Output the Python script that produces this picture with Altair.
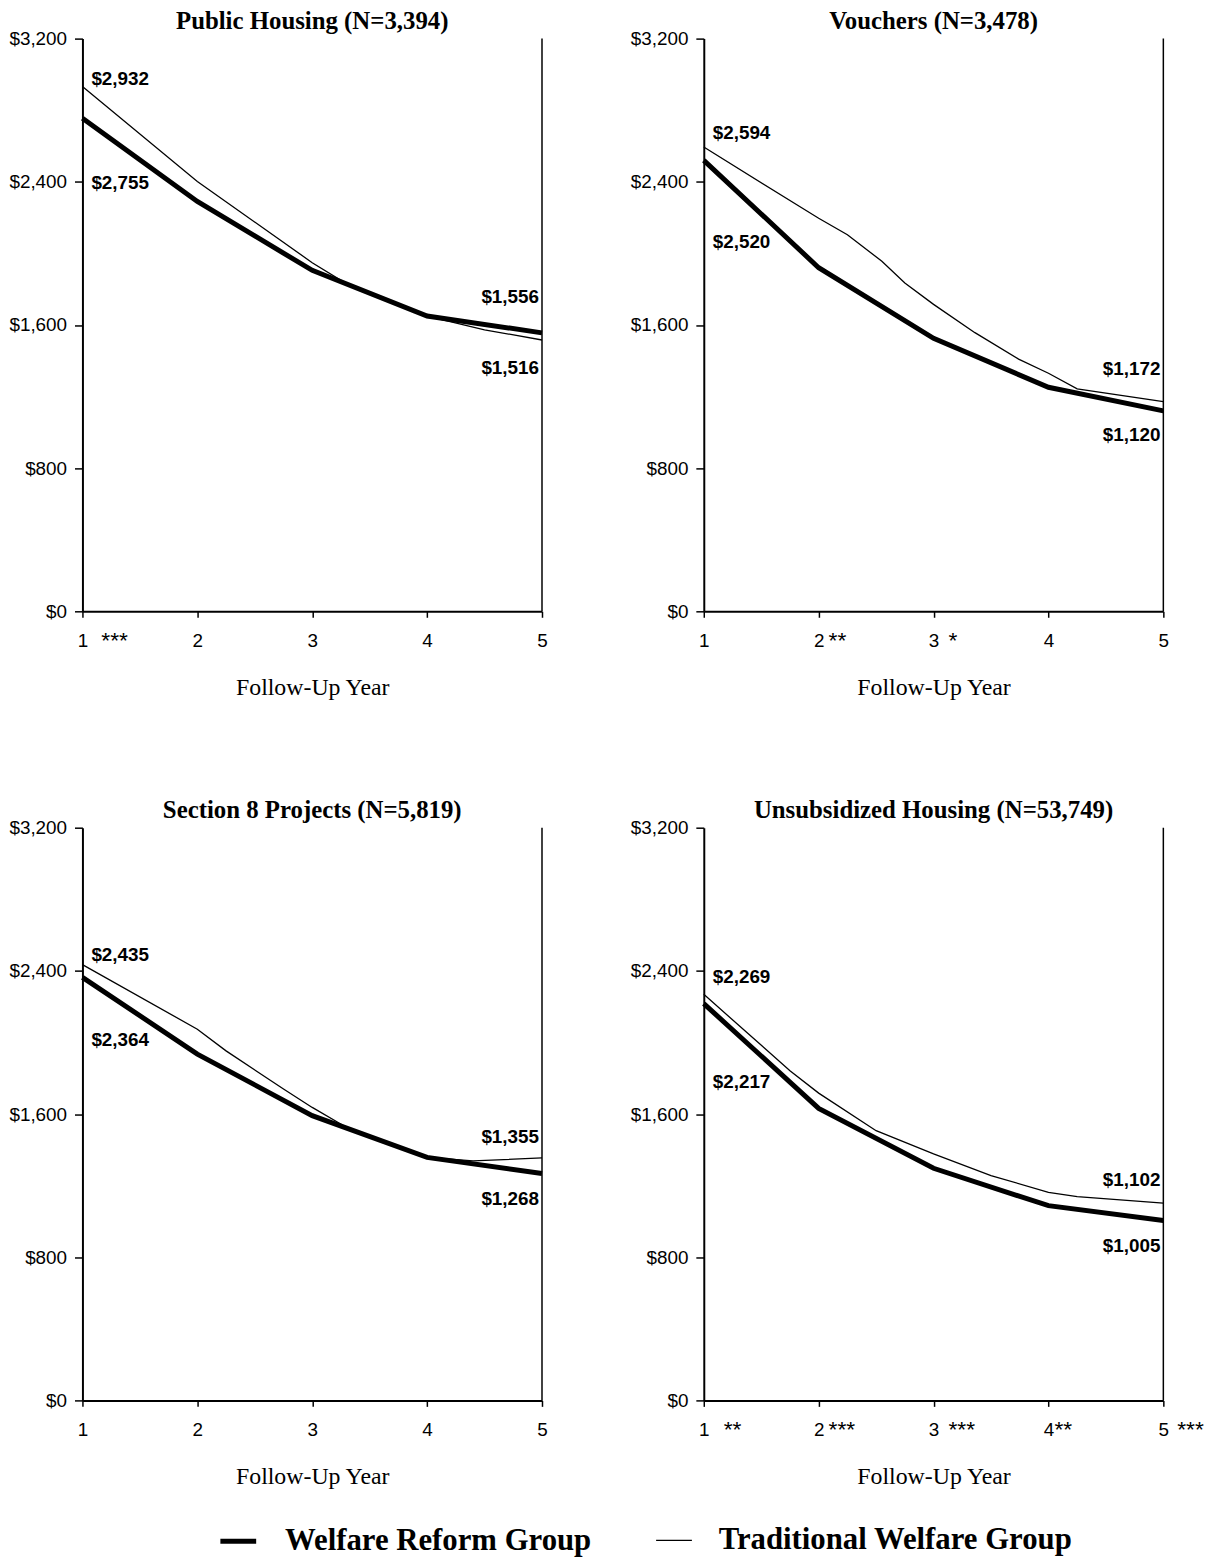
import altair as alt
import pandas as pd

# ---------------- data ----------------
panels = ["Public Housing (N=3,394)", "Vouchers (N=3,478)",
          "Section 8 Projects (N=5,819)", "Unsubsidized Housing (N=53,749)"]
groups = ["Welfare Reform Group", "Traditional Welfare Group"]

reform_x = [[1, 2, 3, 4, 5], [1, 2, 3, 4, 5], [1, 2, 3, 4, 5], [1, 2, 3, 4, 5]]
reform_y = [[2755, 2290, 1905, 1650, 1556],
            [2520, 1920, 1525, 1252, 1120],
            [2364, 1935, 1591, 1358, 1268],
            [2217, 1632, 1297, 1088, 1005]]

trad_x = [[1, 2, 3, 3.3, 4, 4.5, 5],
          [1, 2, 2.25, 2.55, 2.75, 3, 3.36, 3.74, 4, 4.25, 5],
          [1, 2, 2.25, 2.75, 3, 3.3, 4, 4.4, 5],
          [1, 1.75, 2, 2.5, 3, 3.5, 4, 4.25, 5]]
trad_y = [[2932, 2402, 1948, 1830, 1650, 1573, 1516],
          [2594, 2196, 2104, 1956, 1835, 1715, 1557, 1409, 1330, 1243, 1172],
          [2435, 2074, 1953, 1740, 1637, 1525, 1358, 1338, 1355],
          [2269, 1842, 1717, 1507, 1377, 1256, 1163, 1139, 1102]]

# endpoint value labels
start_trad = [2932, 2594, 2435, 2269]
start_reform = [2755, 2520, 2364, 2217]
end_trad = [1516, 1172, 1355, 1102]
end_reform = [1556, 1120, 1268, 1005]

# significance stars next to year tick labels
stars_year = [[1], [2, 3], [], [1, 2, 3, 4, 5]]
stars_text = [["***"], ["**", "*"], [], ["**", "***", "***", "**", "***"]]

x_ticks = [1, 2, 3, 4, 5]
y_ticks = [0, 800, 1600, 2400, 3200]

# ---------------- styles ----------------
W, H = 463, 577
start_trad_dy = [-8, -14, -10, -17]
start_reform_dy = [65, 82, 63, 79]
end_trad_dy = [28, -33, -21, -23]
end_reform_dy = [-36, 24, 26, 26]
stars_gap_px = [[19], [10, 15], [], [20, 10, 15, 6, 14]]

SANS = "Liberation Sans"
SERIF = "Liberation Serif"


def xenc(field):
    return alt.X(field, type="quantitative",
                 scale=alt.Scale(domain=[1, 5], nice=False, zero=False),
                 axis=alt.Axis(values=x_ticks, format="d", title="Follow-Up Year",
                               labelFlush=False))


def yenc(field="value"):
    return alt.Y(field, type="quantitative",
                 scale=alt.Scale(domain=[0, 3200], nice=False),
                 axis=alt.Axis(values=y_ticks, format="$,.0f", title=None))


def panel(i):
    rows = []
    for x, y in zip(reform_x[i], reform_y[i]):
        rows.append({"year": x, "value": y, "group": groups[0]})
    for x, y in zip(trad_x[i], trad_y[i]):
        rows.append({"year": x, "value": y, "group": groups[1]})
    df = pd.DataFrame(rows)

    lines = alt.Chart(df).mark_line(color="black").encode(
        x=xenc("year"), y=yenc(),
        strokeWidth=alt.StrokeWidth(
            "group:N",
            scale=alt.Scale(domain=groups, range=[5, 1.3]),
            legend=alt.Legend(
                title=None, orient="none", legendX=136, legendY=1493,
                direction="horizontal", symbolType="stroke", symbolSize=1300,
                symbolStrokeColor="black",
                labelFont=SERIF, labelFontSize=31, labelFontWeight="bold",
                labelColor="black", labelLimit=800, columnPadding=62,
                labelOffset=26)),
        detail="group:N",
        order="year:Q",
    )

    border = alt.Chart(pd.DataFrame({"a": [0]})).mark_rule(
        color="black", strokeWidth=1.5).encode(
        x=alt.datum(5), y=alt.datum(0), y2=alt.datum(3200))

    title = alt.Chart(pd.DataFrame({"t": [panels[i]]})).mark_text(
        baseline="middle", align="center", dy=-18, font=SERIF, fontSize=25,
        fontWeight="bold", color="black").encode(
        x=alt.datum(3), y=alt.datum(3200), text="t:N")

    layers = [lines, border, title]

    def label(year, value, dy, align, dx):
        d = pd.DataFrame({"year": [year], "value": [value]})
        return alt.Chart(d).mark_text(
            align=align, baseline="middle", dx=dx, dy=dy, font=SANS,
            fontSize=19, fontWeight="bold", color="black").encode(
            x=xenc("year"), y=yenc(),
            text=alt.Text("value:Q", format="$,.0f"))

    layers.append(label(1, start_trad[i], start_trad_dy[i], "left", 9))
    layers.append(label(1, start_reform[i], start_reform_dy[i], "left", 9))
    layers.append(label(5, end_trad[i], end_trad_dy[i], "right", -3))
    layers.append(label(5, end_reform[i], end_reform_dy[i], "right", -3))

    if stars_year[i]:
        sd = pd.DataFrame({"year": stars_year[i], "stars": stars_text[i],
                           "gap": stars_gap_px[i]})
        stars = alt.Chart(sd).transform_calculate(
            xs=f"datum.year + datum.gap / {W / 4}"
        ).mark_text(align="left", baseline="top", dy=19, font=SANS,
                    fontSize=23, color="black").encode(
            x=xenc("xs"), y=alt.datum(0), text="stars:N")
        layers.append(stars)

    return alt.layer(*layers).properties(width=W, height=H)


row1 = alt.hconcat(panel(0), panel(1), spacing=78)
row2 = alt.hconcat(panel(2), panel(3), spacing=78)

chart = alt.vconcat(row1, row2, spacing=99).properties(
    padding={"left": 0, "top": -5, "right": 5, "bottom": 5}
).configure_view(stroke=None).configure_axis(
    domainColor="black", domainWidth=2, tickColor="black", tickWidth=1.5,
    labelFont=SANS, labelFontSize=19, labelColor="black",
    titleFont=SERIF, titleFontSize=24, titleFontWeight="normal",
    titleColor="black", grid=False
).configure_axisY(tickSize=8, labelPadding=8).configure_axisX(
    tickSize=6, labelPadding=14, titlePadding=26)

chart.save("out.html", embed_options={"renderer": "svg", "actions": False})
